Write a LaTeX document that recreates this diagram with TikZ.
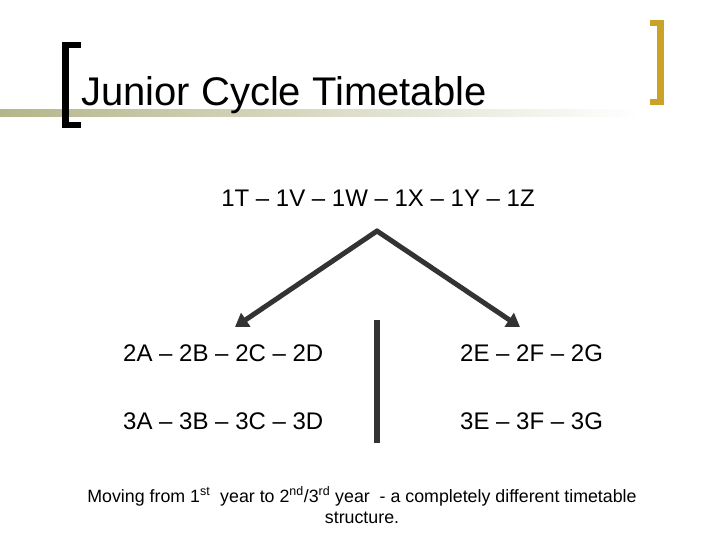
\documentclass[tikz,border=0pt]{standalone}
\usepackage{fontspec}
\setmainfont{Liberation Sans}
\usetikzlibrary{arrows.meta}
\definecolor{gold}{HTML}{C9A227}
\definecolor{olive}{HTML}{B5B58A}
\definecolor{darkarrow}{HTML}{333333}
\begin{document}
\begin{tikzpicture}[x=1pt,y=-1pt,
  row/.style={anchor=base west,inner sep=0,font=\fontsize{24}{28}\selectfont},
  conn/.style={draw=darkarrow,line width=5pt,-{Triangle[length=13pt,width=16pt]}}]
\useasboundingbox (0,0) rectangle (720,540);
% gradient rule
\shade[left color=olive,right color=white] (0,110) rectangle (640,117);
% left bracket (black)
\fill[black] (62,42) rectangle (69,128);
\fill[black] (62,42) rectangle (81,48);
\fill[black] (62,122) rectangle (81,128);
% right bracket (gold)
\fill[gold] (657,20) rectangle (664,105);
\fill[gold] (650,20) rectangle (664,26);
\fill[gold] (650,99) rectangle (664,105);
% title
\node[anchor=base west,inner sep=0,font=\fontsize{40}{48}\selectfont] (title) at (81,106) {Junior Cycle Timetable};
% top row
\node[anchor=base,inner sep=0,font=\fontsize{24}{28}\selectfont] (top) at (378,207) {1T – 1V – 1W – 1X – 1Y – 1Z};
\coordinate (apex) at (377,231);
\coordinate (ltip) at (235,327);
\coordinate (rtip) at (520,327);
\draw[conn,line cap=round] (apex) -- (ltip);
\draw[conn,line cap=round] (apex) -- (rtip);
% vertical divider
\fill[darkarrow] (374,320) rectangle (380,443);
% rows
\node[row] (a2) at (123,361) {2A – 2B – 2C – 2D};
\node[row] (e2) at (460,361) {2E – 2F – 2G};
\node[row] (a3) at (123,429) {3A – 3B – 3C – 3D};
\node[row] (e3) at (460,429) {3E – 3F – 3G};
% footer
\node[anchor=base,inner sep=0,font=\fontsize{17.8}{20}\selectfont] (foot1) at (362,502) {Moving from 1\textsuperscript{st}\ \ year to 2\textsuperscript{nd}/3\textsuperscript{rd} year\ \ - a completely different timetable};
\node[anchor=base,inner sep=0,font=\fontsize{17.8}{20}\selectfont] (foot2) at (362,523) {structure.};
\end{tikzpicture}
\end{document}
